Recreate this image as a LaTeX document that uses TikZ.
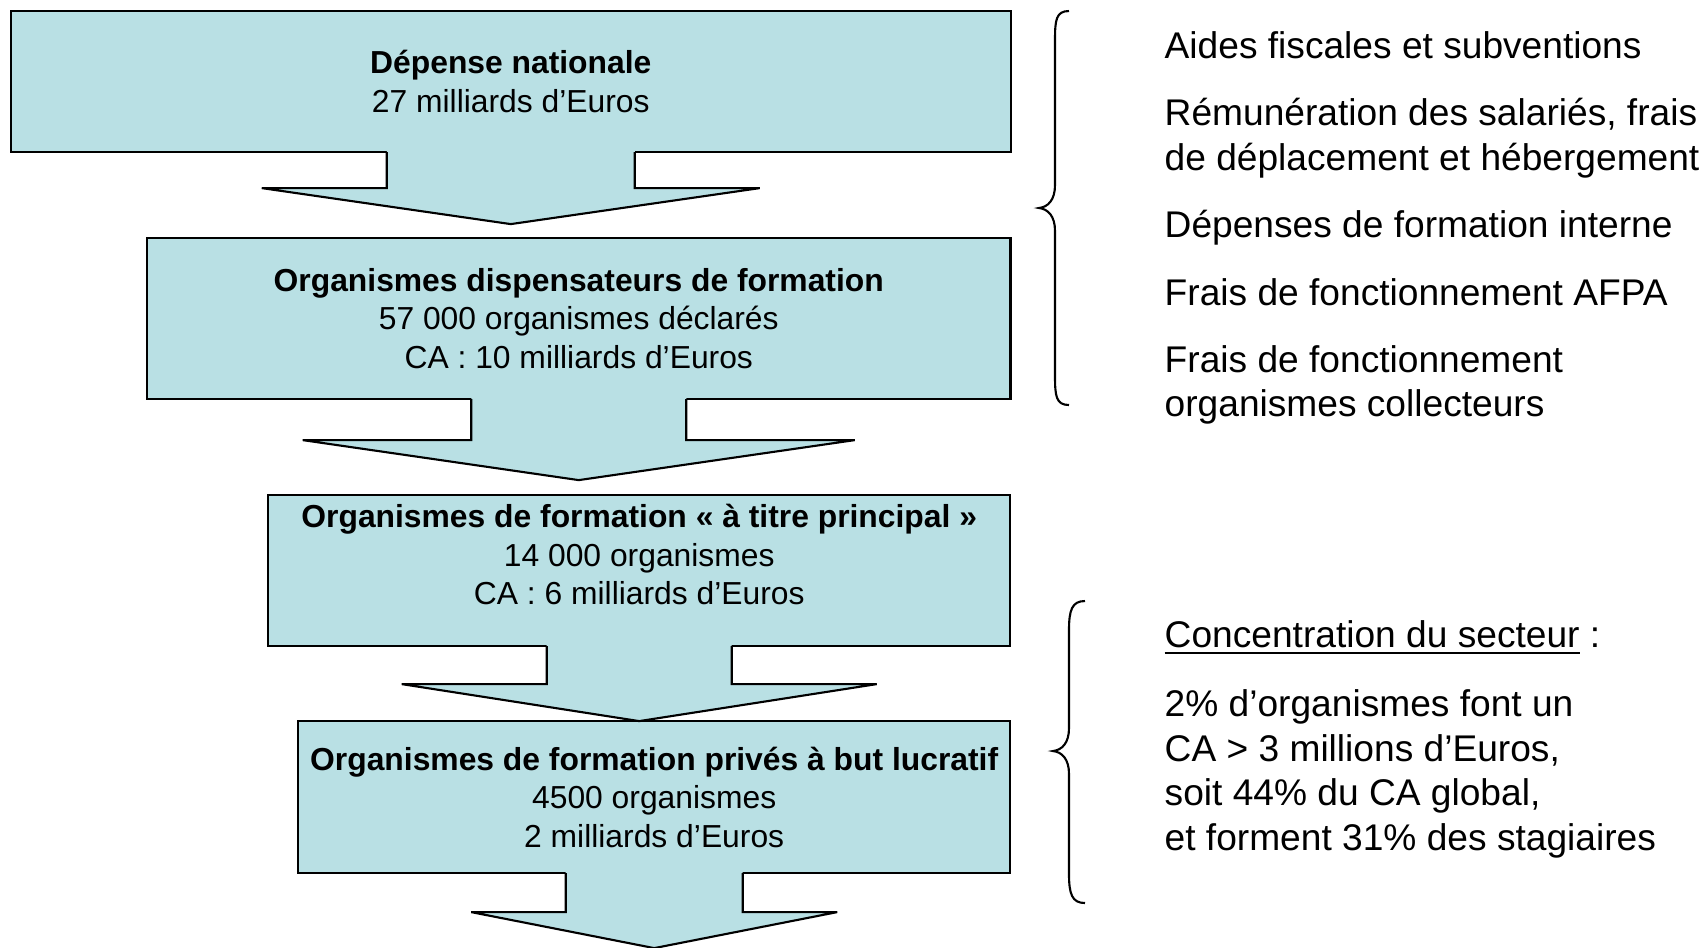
\documentclass[tikz,border=0pt]{standalone}
\usepackage{fontspec}
\setmainfont{Liberation Sans}
\usepackage{tikz}
\definecolor{boxblue}{RGB}{185,224,228}

\newcommand{\flowarrow}[5]{%
\fill[boxblue] (#1.south) ++(-#2,-2) -- ++(0,#3+2) -- ++(#2-#4,0) -- ++(#4,#5) -- ++(#4,-#5) -- ++(#2-#4,0) -- ++(0,-#3-2) -- cycle;
\draw[line width=0.6pt] (#1.south) ++(-#2,0) -- ++(0,#3) -- ++(#2-#4,0) -- ++(#4,#5) -- ++(#4,-#5) -- ++(#2-#4,0) -- ++(0,-#3);}

\begin{document}
\begin{tikzpicture}
[x=0.01cm, y=-0.01cm,
flowbox/.style={draw, line width=0.6pt, fill=boxblue, outer sep=0pt, inner sep=0pt, anchor=north west, align=center, font=\fontsize{9.05}{10.97}\selectfont},
note/.style={anchor=west, align=left, inner sep=0pt, font=\fontsize{10.56}{12.69}\selectfont}]
\useasboundingbox (0,0) rectangle (1706,947);
\node[flowbox, minimum width=9.99cm, minimum height=1.41cm] (b1) at (11,11) {\textbf{Dépense nationale}\\27 milliards d’Euros};
\node[flowbox, minimum width=8.63cm, minimum height=1.61cm] (b2) at (147,238) {\textbf{Organismes dispensateurs de formation}\\57 000 organismes déclarés\\CA : 10 milliards d’Euros};
\node[flowbox, minimum width=7.42cm, minimum height=1.51cm, text depth=0.32cm] (b3) at (268,495) {\textbf{Organismes de formation « à titre principal »}\\14 000 organismes\\CA : 6 milliards d’Euros};
\node[flowbox, minimum width=7.12cm, minimum height=1.52cm] (b4) at (298,721) {\textbf{Organismes de formation privés à but lucratif}\\4500 organismes\\2 milliards d’Euros};
\flowarrow{b1}{124}{36}{249}{36} \flowarrow{b2}{107.5}{41}{276}{40}
\flowarrow{b3}{92.5}{38}{237.5}{37} \flowarrow{b4}{88.5}{39}{183}{36}
\draw[line width=0.6pt] (1069,11) .. controls (1056,11) and (1055,20) .. (1055,40) -- (1055,185) .. controls (1055,200) and (1048,207) .. (1039,208) .. controls (1048,209) and (1055,216) .. (1055,231) -- (1055,376) .. controls (1055,396) and (1056,405) .. (1069,405);
\draw[line width=0.6pt] (1085,601) .. controls (1072,601) and (1069,610) .. (1069,630) -- (1069,728) .. controls (1069,743) and (1062,750) .. (1053,751) .. controls (1062,752) and (1069,759) .. (1069,774) -- (1069,874) .. controls (1069,894) and (1072,903) .. (1085,903);
\node[note] (n1) at (1164,45) {Aides fiscales et subventions};
\node[note] (n2) at (1164,138) {Rémunération des salariés, frais\\de déplacement et hébergement};
\node[note] (n3) at (1164,228) {Dépenses de formation interne};
\node[note] (n4) at (1164,292) {Frais de fonctionnement AFPA};
\node[note] (n5) at (1164,385) {Frais de fonctionnement\\organismes collecteurs};
\node[note] (c1) at (1164,638) {\underline{Concentration du secteur} :};
\node[note] (c2) at (1164,774) {2\% d’organismes font un\\CA > 3 millions d’Euros,\\soit 44\% du CA global,\\et forment 31\% des stagiaires};
\end{tikzpicture}
\end{document}
